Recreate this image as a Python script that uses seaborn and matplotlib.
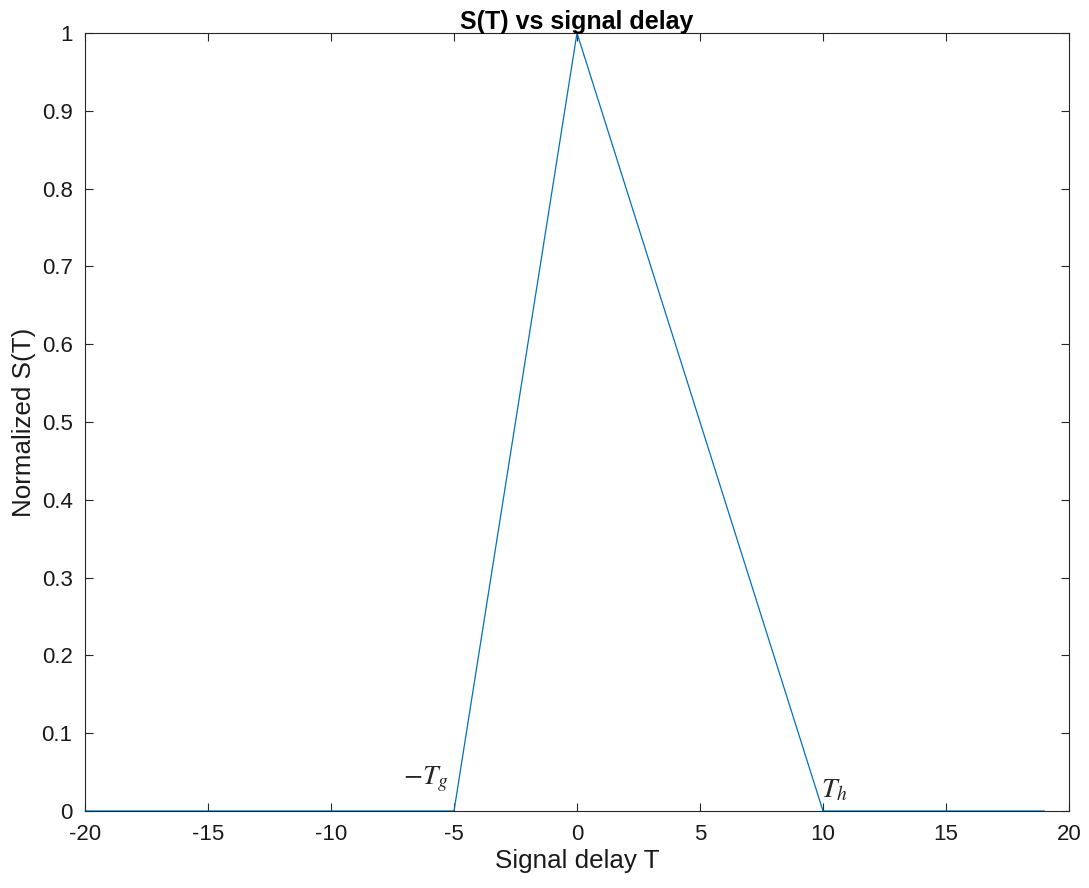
import matplotlib
matplotlib.use("Agg")
import matplotlib.pyplot as plt
import seaborn as sns
import pandas as pd

# Data
delay = [-20, -5, 0, 10, 19]
s_norm = [0, 0, 1, 0, 0]
x_ticks = [-20, -15, -10, -5, 0, 5, 10, 15, 20]
y_ticks = [0, 0.1, 0.2, 0.3, 0.4, 0.5, 0.6, 0.7, 0.8, 0.9, 1]
y_tick_labels = ["0", "0.1", "0.2", "0.3", "0.4", "0.5", "0.6", "0.7", "0.8", "0.9", "1"]

sns.set_style("ticks")
plt.rcParams['font.family'] = ['Liberation Sans', 'DejaVu Sans']
plt.rcParams['mathtext.fontset'] = 'stix'

fig = plt.figure(figsize=(10.89, 8.88), dpi=100)
ax = fig.add_axes([85/1089, 1 - 811/888, (1069-85)/1089, (811-33)/888])

df = pd.DataFrame({"T": delay, "S": s_norm})
sns.lineplot(data=df, x="T", y="S", ax=ax, color="#0072BD", linewidth=0.9)

ax.set_xlim(-20, 20)
ax.set_ylim(0, 1)
ax.set_xticks(x_ticks)
ax.set_xticklabels([str(t) for t in x_ticks])
ax.set_yticks(y_ticks)
ax.set_yticklabels(y_tick_labels)
ax.tick_params(direction="in", top=True, right=True, labelsize=16, length=6,
               width=0.8, color="#262626", labelcolor="#1a1a1a")
ax.tick_params(axis="x", pad=9)
ax.tick_params(axis="y", pad=9)
for sp in ax.spines.values():
    sp.set_visible(True)
    sp.set_color("#262626")
    sp.set_linewidth(0.8)

ax.set_xlabel("Signal delay T", fontsize=18.7, color="#1a1a1a", labelpad=3)
ax.set_ylabel("Normalized S(T)", fontsize=18.7, color="#1a1a1a", labelpad=4)
ax.set_title("S(T) vs signal delay", fontsize=18, fontweight="bold", color="black", pad=3)

ax.text(-5.2, 0.022, r"$-T_g$", fontsize=20, ha="right", va="bottom")
ax.text(9.9, 0.01, r"$T_h$", fontsize=20, ha="left", va="bottom")

fig.savefig("out.png", dpi=100)
